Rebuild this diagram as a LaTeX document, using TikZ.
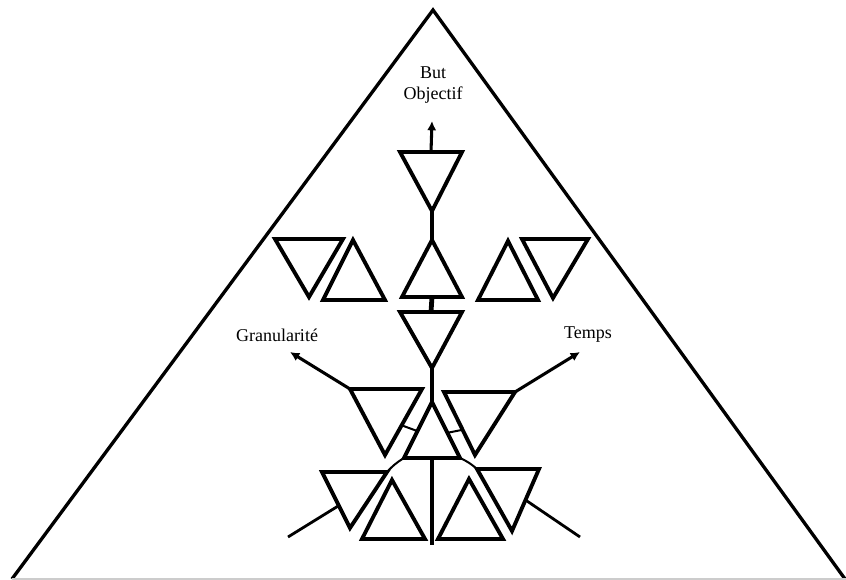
\documentclass[tikz,border=0pt]{standalone}
\usepackage{fontspec}
\setmainfont{Liberation Serif}
\usetikzlibrary{arrows.meta, calc}

% one triangle: name, then its three corners
\newcommand{\tri}[4]{%
  \coordinate (#1-1) at (#2);
  \coordinate (#1-2) at (#3);
  \coordinate (#1-3) at (#4);
  \draw[trishape] (#1-1) -- (#1-2) -- (#1-3) -- cycle;}

\begin{document}
\begin{tikzpicture}[
    x=0.75pt, y=-0.75pt,
    trishape/.style={line width=2.9pt, line join=miter},
    stem/.style={line width=3.6pt},
    pointer/.style={line width=2.3pt, -{Latex[length=7pt, width=7pt]}},
    feeder/.style={line width=2.1pt},
    hinge/.style={line width=1.5pt},
    word/.style={font=\fontsize{13.5}{16}\selectfont, align=center, inner sep=0pt}
  ]
  \useasboundingbox (0,0) rectangle (846,580);

  % outer pyramid
  \coordinate (apex) at (433,10);
  \coordinate (baseL) at (12,579);
  \coordinate (baseR) at (845,579);
  \draw[line width=2.5pt] (baseL) -- (apex) -- (baseR);
  \draw[gray!40, line width=1.2pt] (baseL) -- (846,579);

  % labels
  \node[word] (goal) at (433,85) {But\\Objectif};
  \node[word] (gran) at (277,335) {Granularité};
  \node[word] (time) at (588,335) {Temps};

  % central column
  \tri{t1}{400,152}{462,152}{432,211}
  \tri{t2}{432,240}{462,297}{402,297}
  \tri{t3}{400,312}{462,312}{432,368}
  \tri{g}{432,402}{460,458}{404,458}

  % upper side pairs
  \tri{a}{275,239}{343,239}{309,297}
  \tri{b}{353,240}{385,300}{323,300}
  \tri{c}{508,241}{538,300}{478,300}
  \tri{d}{522,239}{588,239}{553,298}

  % middle wings
  \tri{e}{350,389}{422,389}{385,455}
  \tri{f}{444,392}{515,392}{475,455}

  % bottom row
  \tri{h}{322,472}{387,472}{350,528}
  \tri{i}{392,480}{425,539}{362,539}
  \tri{j}{469,479}{503,539}{438,539}
  \tri{k}{477,469}{539,469}{512,531}

  % stems
  \coordinate (goaltip) at (432,121);
  \coordinate (root) at (432,545);
  \draw[pointer] ($(t1-1)!0.5!(t1-2)$) -- (goaltip);
  \draw[stem] (t1-3) -- (t2-1);
  \draw[stem] ($(t2-2)!0.5!(t2-3)$) -- ($(t3-1)!0.5!(t3-2)$);
  \draw[stem] (t3-3) -- (g-1);
  \draw[stem] ($(g-2)!0.5!(g-3)$) -- (root);

  % rungs between wings and centre
  \draw[hinge] ($(e-2)!0.55!(e-3)$) -- ($(g-1)!0.52!(g-3)$);
  \draw[hinge] ($(f-1)!0.6!(f-3)$) -- ($(g-1)!0.55!(g-2)$);

  % axes
  \coordinate (grantip) at (290,352);
  \coordinate (timetip) at (580,352);
  \draw[pointer] (e-1) -- (grantip);
  \draw[pointer] (f-2) -- (timetip);

  % links to the bottom row
  \draw[hinge] (g-3) to[bend right=8] (h-2);
  \draw[hinge] (g-2) to[bend left=8] (k-1);
  \coordinate (footL) at (288,537);
  \coordinate (footR) at (580,537);
  \draw[feeder] (footL) -- ($(h-1)!0.6!(h-3)$);
  \draw[feeder] ($(k-2)!0.5!(k-3)$) -- (footR);
\end{tikzpicture}
\end{document}
